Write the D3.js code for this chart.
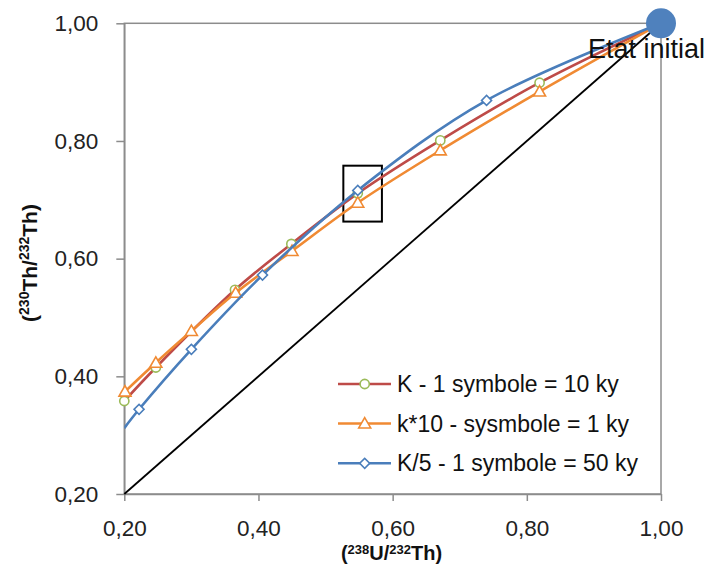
<!DOCTYPE html>
<html><head><meta charset="utf-8">
<script src="https://cdn.jsdelivr.net/npm/d3@7"></script>
<style>
body{margin:0;background:#fff;}
text{font-family:"Liberation Sans",Arial,sans-serif;}
</style>
</head><body>
<svg id="c" width="711" height="565"></svg>
<script>
// ---- data ----
const xTicks = [0.2, 0.4, 0.6, 0.8, 1.0];
const yTicks = [0.2, 0.4, 0.6, 0.8, 1.0];

// K - 1 symbole = 10 ky
const kX = [0.200, 0.247, 0.365, 0.449, 0.548, 0.671, 0.819, 1.000];
const kY = [0.358, 0.415, 0.547, 0.625, 0.711, 0.801, 0.899, 1.000];
// k*10 - sysmbole = 1 ky
const k10X = [0.201, 0.247, 0.300, 0.366, 0.450, 0.548, 0.671, 0.819, 1.000];
const k10Y = [0.374, 0.423, 0.477, 0.542, 0.613, 0.695, 0.784, 0.884, 1.000];
// K/5 - 1 symbole = 50 ky (first point: curve start at axis, no symbol)
const k5X = [0.200, 0.222, 0.300, 0.406, 0.548, 0.740, 1.000];
const k5Y = [0.312, 0.344, 0.446, 0.572, 0.716, 0.869, 1.000];
const k5MarkerStart = 1;

const seriesNames = ["K - 1 symbole = 10 ky", "k*10 - sysmbole = 1 ky", "K/5 - 1 symbole = 50 ky"];
const equiline = [[0.2, 0.2], [1.0, 1.0]];
const initialState = [1.0, 1.0];
const initialLabel = "Etat initial";
const zoomBox = {x0: 0.5265, x1: 0.584, y0: 0.663, y1: 0.758};

// ---- chart ----
const svg = d3.select("#c");
svg.append("rect").attr("width", 711).attr("height", 565).attr("fill", "#fff");

const L = 124.3, R = 661, T = 23.3, B = 494;
const x = d3.scaleLinear().domain([0.2, 1.0]).range([L, R]);
const y = d3.scaleLinear().domain([0.2, 1.0]).range([B, T]);
const fmt = d => d3.format(".2f")(d).replace(".", ",");
const axisColor = "#8c8c8c";

svg.append("defs").append("clipPath").attr("id", "clip")
  .append("rect").attr("x", L).attr("y", T).attr("width", R - L).attr("height", B - T);

// plot border (top/right)
svg.append("rect").attr("x", L).attr("y", T).attr("width", R - L).attr("height", B - T)
  .attr("fill", "none").attr("stroke", axisColor).attr("stroke-width", 1.5);

const xa = svg.append("g").attr("transform", `translate(0,${B})`)
  .call(d3.axisBottom(x).tickValues(xTicks).tickFormat(fmt).tickSize(7).tickSizeOuter(0).tickPadding(19));
const ya = svg.append("g").attr("transform", `translate(${L},0)`)
  .call(d3.axisLeft(y).tickValues(yTicks).tickFormat(fmt).tickSize(8).tickSizeOuter(0).tickPadding(18));
[xa, ya].forEach(a => {
  a.selectAll("path,line").attr("stroke", axisColor).attr("stroke-width", 1.5);
  a.selectAll("text").attr("font-size", 22.5).attr("fill", "#222")
    .style("font-family", "'Liberation Sans',Arial,sans-serif");
});

// 1:1 line
svg.append("line")
  .attr("x1", x(equiline[0][0])).attr("y1", y(equiline[0][1]))
  .attr("x2", x(equiline[1][0])).attr("y2", y(equiline[1][1]))
  .attr("stroke", "#000").attr("stroke-width", 1.8);

// zoom box
svg.append("rect")
  .attr("x", x(zoomBox.x0)).attr("y", y(zoomBox.y1))
  .attr("width", x(zoomBox.x1) - x(zoomBox.x0)).attr("height", y(zoomBox.y0) - y(zoomBox.y1))
  .attr("fill", "none").attr("stroke", "#000").attr("stroke-width", 2);

const series = [
  {xs: kX, ys: kY, color: "#be4b48", mColor: "#9bbb59", sym: "circle", mStart: 0},
  {xs: k10X, ys: k10Y, color: "#f08a33", mColor: "#f08a33", sym: "triangle", mStart: 0},
  {xs: k5X, ys: k5Y, color: "#4a7ebb", mColor: "#4a7ebb", sym: "diamond", mStart: k5MarkerStart}
];

const line = d3.line().x(d => x(d[0])).y(d => y(d[1])).curve(d3.curveCatmullRom.alpha(0.5));

function marker(g, sym, color, cx, cy) {
  if (sym === "circle") {
    g.append("circle").attr("cx", cx).attr("cy", cy).attr("r", 4.6)
      .attr("fill", "#fff").attr("stroke", color).attr("stroke-width", 1.6);
  } else if (sym === "triangle") {
    g.append("path").attr("d", d3.symbol(d3.symbolTriangle, 62)())
      .attr("transform", `translate(${cx},${cy + 1})`)
      .attr("fill", "#fff").attr("stroke", color).attr("stroke-width", 1.6);
  } else {
    g.append("path").attr("d", d3.symbol(d3.symbolSquare, 50)())
      .attr("transform", `translate(${cx},${cy}) rotate(45)`)
      .attr("fill", "#fff").attr("stroke", color).attr("stroke-width", 1.6);
  }
}

series.forEach(s => {
  const pts = s.xs.map((v, i) => [v, s.ys[i]]);
  svg.append("path").datum(pts).attr("d", line).attr("clip-path", "url(#clip)")
    .attr("fill", "none").attr("stroke", s.color).attr("stroke-width", 2.6);
  const g = svg.append("g");
  pts.forEach((p, i) => {
    if (i < s.mStart || i === pts.length - 1) return;
    marker(g, s.sym, s.mColor, x(p[0]), y(p[1]));
  });
});

// initial state dot and label
svg.append("circle").attr("cx", x(initialState[0])).attr("cy", y(initialState[1])).attr("r", 15)
  .attr("fill", "#4f81bd");
svg.append("text").attr("x", 588).attr("y", 58).attr("font-size", 27).attr("fill", "#111")
  .text(initialLabel);

// legend
const legY = [384, 423.5, 463.3];
series.forEach((s, i) => {
  const g = svg.append("g");
  g.append("line").attr("x1", 338).attr("x2", 391).attr("y1", legY[i]).attr("y2", legY[i])
    .attr("stroke", s.color).attr("stroke-width", 2.6);
  marker(g, s.sym, s.mColor, 364.7, legY[i]);
  g.append("text").attr("x", 397).attr("y", legY[i] + 8).attr("font-size", 23).attr("fill", "#111")
    .text(seriesNames[i]);
});

// axis titles
const xt = svg.append("text").attr("x", 391.5).attr("y", 560).attr("text-anchor", "middle")
  .attr("font-size", 20).attr("font-weight", "bold").attr("fill", "#111");
xt.append("tspan").text("(");
xt.append("tspan").attr("font-size", 13).attr("dy", -6).text("238");
xt.append("tspan").attr("dy", 6).text("U/");
xt.append("tspan").attr("font-size", 13).attr("dy", -6).text("232");
xt.append("tspan").attr("dy", 6).text("Th)");

const yt = svg.append("text").attr("transform", "translate(37,263) rotate(-90)").attr("text-anchor", "middle")
  .attr("font-size", 21).attr("font-weight", "bold").attr("fill", "#111");
yt.append("tspan").text("(");
yt.append("tspan").attr("font-size", 14).attr("dy", -8).text("230");
yt.append("tspan").attr("dy", 8).text("Th/");
yt.append("tspan").attr("font-size", 14).attr("dy", -8).text("232");
yt.append("tspan").attr("dy", 8).text("Th)");
</script>
</body></html>
